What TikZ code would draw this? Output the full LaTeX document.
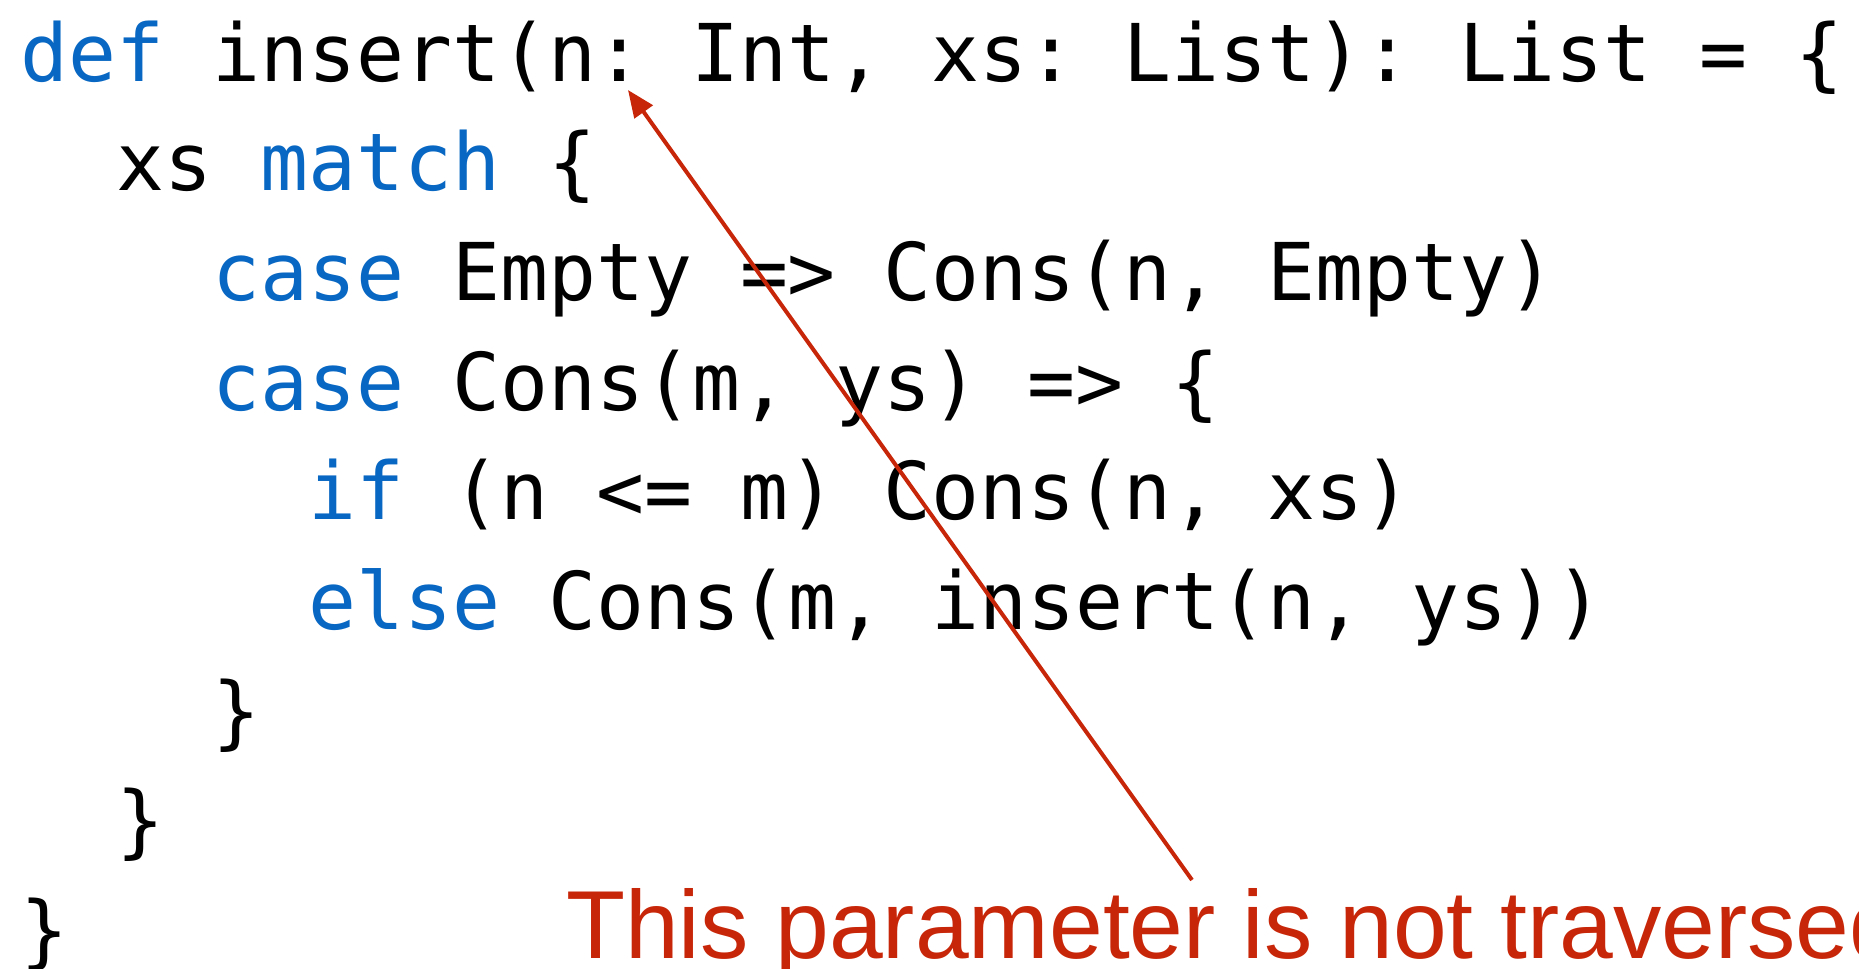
\documentclass[tikz,border=0pt]{standalone}
\usepackage{fontspec}
\newfontfamily\codefont{DejaVu Sans Mono}
\newfontfamily\notefont{Liberation Sans}
\usetikzlibrary{arrows.meta}
\definecolor{kwblue}{RGB}{8,103,194}
\definecolor{notered}{RGB}{200,38,8}
\newcommand{\kw}[1]{\textcolor{kwblue}{#1}}

\begin{document}
\begin{tikzpicture}[x=1bp, y=-1bp,
  codeline/.style={anchor=base west, inner sep=0pt,
    font=\codefont\fontsize{80}{96}\selectfont\frenchspacing},
  note/.style={anchor=base west, inner sep=0pt, text=notered,
    font=\notefont\fontsize{97}{116}\selectfont}]

  \useasboundingbox (0,0) rectangle (1859,968);

  % ====== code: one node per line, indent = 2 chars ======
  \node[codeline] (l1) at (20,81)
    {\kw{def} insert(n: Int, xs: List): List = \{};
  \node[codeline] (l2) at (116,190.7) {xs \kw{match} \{};
  \node[codeline] (l3) at (212,300.4) {\kw{case} Empty => Cons(n, Empty)};
  \node[codeline] (l4) at (212,410.1) {\kw{case} Cons(m, ys) => \{};
  \node[codeline] (l5) at (308,519.8) {\kw{if} (n <= m) Cons(n, xs)};
  \node[codeline] (l6) at (308,629.5) {\kw{else} Cons(m, insert(n, ys))};
  \node[codeline] (l7) at (212,739.2) {\}};
  \node[codeline] (l8) at (116,848.9) {\}};
  \node[codeline] (l9) at (20,958.6) {\}};

  % ====== remark and its arrow ======
  \node[note] (remark) at (566,958) {This parameter is not traversed};
  \coordinate (tail) at (1192,880);
  \coordinate (param) at (628,90);
  \draw[notered, line width=4bp, -{Triangle[length=27bp, width=22bp]}]
    (tail) -- (param);

\end{tikzpicture}
\end{document}
